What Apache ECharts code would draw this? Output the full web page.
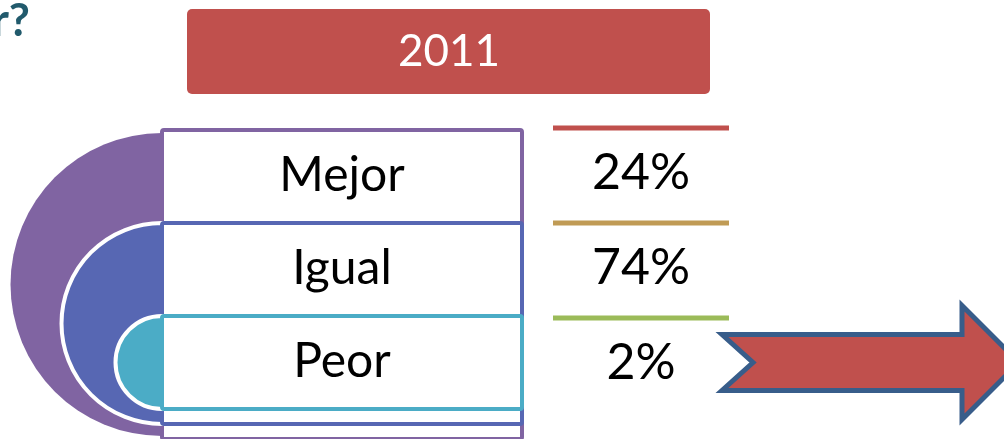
<!DOCTYPE html>
<html>
<head>
<meta charset="utf-8">
<script src="https://cdn.jsdelivr.net/npm/echarts@6/dist/echarts.min.js"></script>
<style>
  html, body { margin: 0; padding: 0; background: #fff; }
  #chart { width: 1004px; height: 439px; }
</style>
</head>
<body>
<div id="chart"></div>
<script>
// data
const year = '2011';
const categories = ['Mejor', 'Igual', 'Peor'];
const percentages = [24, 74, 2];

// colours per row
const shapeColors = ['#8064a2', '#5767b3', '#4bacc6'];
const ruleColors = ['#c0504d', '#c09b55', '#9bbb59'];

const FONT = 'Lato, "Open Sans", sans-serif';

let ec = echarts.init(document.getElementById('chart'), null, { renderer: 'canvas' });

function renderRow(params, api) {
    const i = api.value(1);
    const n = categories.length;
    const band = api.size([0, 1])[1];
    const left = api.coord([0, i]);
    const xl = left[0], yc = left[1];
    const xr = api.coord([1, i])[0];
    const top = yc - band / 2;
    const lastBottom = api.coord([0, n - 1])[1] + band / 2;
    // nested boxes: each one runs down past the rows below it
    const bottom = lastBottom + (n - 1 - i) * 15;
    const r = (bottom - top) / 2;
    const cy = (top + bottom) / 2;

    const children = [
        {
            type: 'sector',
            shape: { cx: xl, cy: cy, r0: 0, r: i === 0 ? r - 3 : r, startAngle: Math.PI / 2, endAngle: Math.PI * 1.5, clockwise: true },
            style: { fill: shapeColors[i], stroke: i === 0 ? null : '#fff', lineWidth: 4 }
        },
        {
            type: 'rect',
            shape: { x: xl, y: top, width: xr - xl, height: bottom - top, r: 2 },
            style: { fill: '#fff', stroke: shapeColors[i], lineWidth: 4 }
        },
        {
            type: 'text',
            style: {
                x: (xl + xr) / 2, y: yc - 1, text: categories[i],
                fill: '#000', font: '48px ' + FONT, align: 'center', verticalAlign: 'middle'
            }
        },
        {
            type: 'line',
            shape: { x1: xr + 31, y1: top - 2 + 2 * i, x2: xr + 207, y2: top - 2 + 2 * i },
            style: { stroke: ruleColors[i], lineWidth: 5 }
        },
        {
            type: 'text',
            style: {
                x: xr + 119, y: yc - 4 + 2 * i, text: percentages[i] + '%',
                fill: '#000', font: '50px ' + FONT, align: 'center', verticalAlign: 'middle'
            }
        }
    ];

    if (i === n - 1) {
        // notched arrow next to the last row
        const ax = xr + 200;
        children.push({
            type: 'polygon',
            shape: {
                points: [
                    [ax, yc - 28], [ax + 240, yc - 28], [ax + 240, yc - 57], [ax + 297, yc],
                    [ax + 240, yc + 57], [ax + 240, yc + 28], [ax, yc + 28], [ax + 31, yc]
                ]
            },
            style: { fill: '#c0504d', stroke: '#385d8a', lineWidth: 5, lineJoin: 'miter' }
        });
    }
    return { type: 'group', children: children };
}

let option = {
    animation: false,
    grid: { left: 162, right: 482, top: 130, height: 279 },
    xAxis: { type: 'value', min: 0, max: 1, show: false },
    yAxis: { type: 'category', data: categories, inverse: true, show: false },
    graphic: [
        {
            type: 'text', x: 30, y: 21,
            style: { text: 'r?', fill: '#215a6c', font: 'bold 46px ' + FONT, align: 'right', verticalAlign: 'middle' }
        },
        {
            type: 'rect', left: 187, top: 9,
            shape: { width: 523, height: 85, r: 5 },
            style: { fill: '#c0504d' }
        },
        {
            type: 'text', x: 449, y: 52,
            style: { text: year, fill: '#fff', font: '44px ' + FONT, align: 'center', verticalAlign: 'middle' }
        }
    ],
    series: [{
        type: 'custom',
        renderItem: renderRow,
        data: categories.map((c, i) => [0, i]),
        clip: false
    }]
};

ec.setOption(option);
</script>
</body>
</html>
